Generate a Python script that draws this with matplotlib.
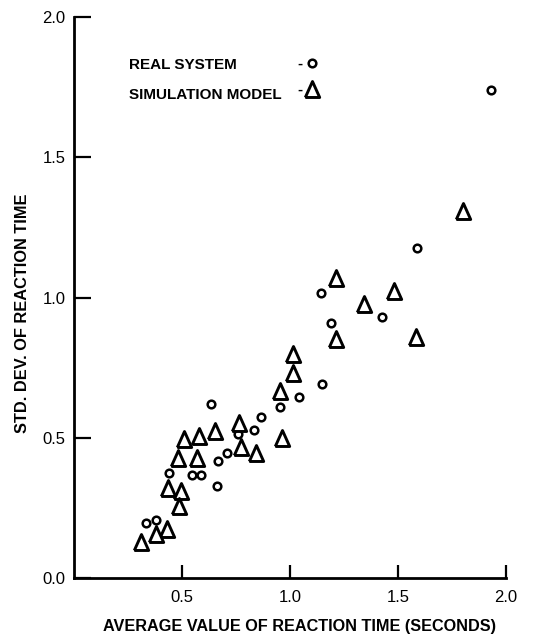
import matplotlib
matplotlib.use('Agg')
import matplotlib.pyplot as plt

# Real system (circles)
real_x = [1.93, 1.59, 1.143, 1.424, 1.19, 1.15, 1.04, 0.955, 0.633, 0.864,
          0.835, 0.761, 0.707, 0.668, 0.545, 0.588, 0.44, 0.663, 0.332, 0.378]
real_y = [1.74, 1.175, 1.015, 0.929, 0.908, 0.692, 0.646, 0.611, 0.619, 0.575,
          0.528, 0.513, 0.444, 0.417, 0.367, 0.367, 0.375, 0.329, 0.195, 0.207]

# Simulation model (triangles)
sim_x = [1.80, 1.213, 1.344, 1.483, 1.213, 1.583, 1.012, 1.015, 0.954, 0.961,
         0.762, 0.653, 0.580, 0.509, 0.772, 0.843, 0.483, 0.568, 0.437, 0.495,
         0.488, 0.429, 0.378, 0.309]
sim_y = [1.31, 1.068, 0.977, 1.023, 0.851, 0.860, 0.799, 0.732, 0.668, 0.498,
         0.551, 0.524, 0.506, 0.494, 0.466, 0.444, 0.427, 0.427, 0.320, 0.310,
         0.258, 0.174, 0.157, 0.129]

x_ticks = [0.5, 1.0, 1.5, 2.0]
y_ticks = [0.0, 0.5, 1.0, 1.5, 2.0]

plt.rcParams['font.family'] = ['Liberation Sans', 'DejaVu Sans']

fig = plt.figure(figsize=(5.33, 6.44), dpi=100)
ax = fig.add_axes([74 / 533, 1 - 578 / 644, (506 - 74) / 533, (578 - 17) / 644])

# a bit taller than wide, like the original's triangles
tall_tri = [(-0.9, -1), (0.9, -1), (0, 1), (-0.9, -1)]
circ = dict(marker='o', ms=5.5, mfc='white', mec='black', mew=1.8, ls='none')
tri = dict(marker=tall_tri, ms=11.5, mfc='white', mec='black', mew=2.1, ls='none')

ax.plot(real_x, real_y, clip_on=False, **circ)
ax.plot(sim_x, sim_y, clip_on=False, **tri)

ax.set_xlim(0, 2.0)
ax.set_ylim(0, 2.0)
ax.set_xticks(x_ticks)
ax.set_xticklabels(['%.1f' % t for t in x_ticks])
ax.set_yticks(y_ticks)
ax.set_yticklabels(['%.1f' % t for t in y_ticks])

for s in ['top', 'right']:
    ax.spines[s].set_visible(False)
for s in ['left', 'bottom']:
    ax.spines[s].set_linewidth(2.0)
ax.tick_params(direction='in', width=1.6, labelsize=12)
ax.tick_params(axis='x', length=9.5, pad=9)
ax.tick_params(axis='y', length=12, pad=6)

ax.set_xlabel('AVERAGE VALUE OF REACTION TIME (SECONDS)', fontweight='bold',
              fontsize=11.7, va='center')
ax.xaxis.set_label_coords(0.521, -0.0865)
ax.set_ylabel('STD. DEV. OF REACTION TIME', fontweight='bold', fontsize=11.8,
              va='center')
ax.yaxis.set_label_coords(-0.119, 0.4715)

# legend drawn by hand
fig.text(129 / 533, 1 - 65 / 644, 'REAL SYSTEM', fontweight='bold',
         fontsize=11, va='center', ha='left')
fig.text(129 / 533, 1 - 95 / 644, 'SIMULATION MODEL', fontweight='bold',
         fontsize=11, va='center', ha='left')
fig.text(297 / 533, 1 - 64 / 644, '-', fontweight='bold', fontsize=11, va='center', ha='left')
fig.text(297 / 533, 1 - 90 / 644, '-', fontweight='bold', fontsize=11, va='center', ha='left')
fig.lines.append(plt.Line2D([312 / 533], [1 - 63 / 644], transform=fig.transFigure, **circ))
fig.lines.append(plt.Line2D([312 / 533], [1 - 89 / 644], transform=fig.transFigure, **tri))

fig.savefig('out.png', dpi=100)
